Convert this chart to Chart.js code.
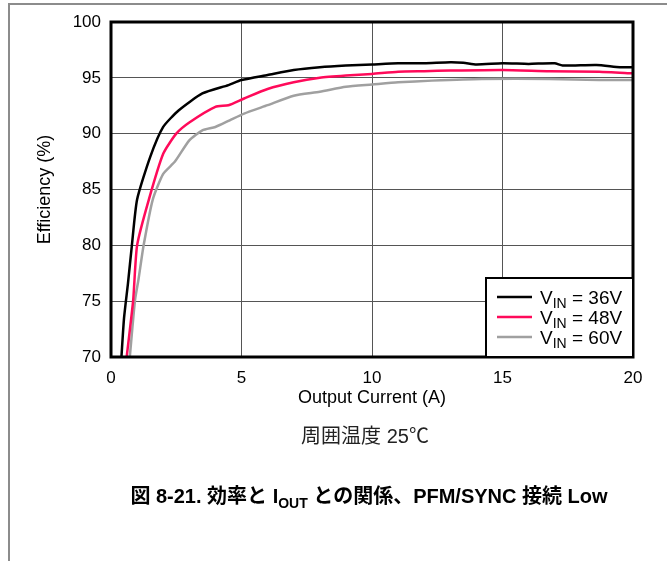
<!DOCTYPE html>
<html>
<head>
<meta charset="utf-8">
<script src="https://cdn.jsdelivr.net/npm/chart.js@4"></script>
<style>
  html, body { margin: 0; padding: 0; background: #fff; }
  #wrap { position: relative; width: 667px; height: 561px; overflow: hidden; }
  #chart { position: absolute; left: 0; top: 0; }
  .frame { position: absolute; left: 8px; top: 3px; width: 670px; height: 570px;
           border-top: 2px solid #8c8c8c; border-left: 2px solid #8c8c8c; }
  .cap { position: absolute; white-space: nowrap; text-align: center;
         font-family: "Liberation Sans", Arial, "Noto Sans CJK JP", sans-serif; }
  #note { left: 165px; width: 400px; top: 420px; font-size: 20px; color: #222; }
  #title { left: 69px; width: 600px; top: 480px; font-size: 20px; font-weight: bold; color: #000; }
  #title sub { font-size: 14px; vertical-align: -5px; line-height: 0; }
</style>
</head>
<body>
<div id="wrap">
  <canvas id="chart" width="667" height="561"></canvas>
  <div class="frame"></div>
  <div class="cap" id="note">周囲温度 25℃</div>
  <div class="cap" id="title">図 8-21. 効率と I<sub>OUT</sub> との関係、PFM/SYNC 接続 Low</div>
</div>
<script>
// Efficiency vs output current
const vin36Current = [0.4, 0.5, 0.65, 0.8, 1.0, 1.5, 2.0, 2.6, 3.5, 4.5, 5.0, 6.0, 7.0, 8.0, 9.0, 10.0, 11.0, 12.0, 13.0, 13.5, 14.0, 15.0, 16.0, 17.0, 17.3, 18.6, 19.5, 20];
const vin36Eff = [70, 73.5, 76.6, 80, 84.1, 87.9, 90.6, 92.1, 93.6, 94.35, 94.8, 95.25, 95.7, 95.95, 96.1, 96.2, 96.3, 96.3, 96.4, 96.35, 96.2, 96.3, 96.25, 96.3, 96.1, 96.15, 95.95, 95.95];

const vin48Current = [0.6, 0.85, 1.0, 1.45, 2.0, 2.5, 3.0, 4.0, 4.5, 5.1, 6.0, 7.0, 8.0, 9.0, 10.0, 11.0, 12.0, 13.0, 15.0, 16.8, 18.7, 20];
const vin48Eff = [70, 75.1, 80, 84.1, 88.2, 90.0, 91.0, 92.4, 92.55, 93.15, 94.0, 94.6, 95.0, 95.2, 95.35, 95.55, 95.6, 95.65, 95.7, 95.6, 95.55, 95.4];

const vin60Current = [0.72, 0.92, 1.05, 1.25, 1.6, 2.0, 2.45, 3.0, 3.5, 4.0, 4.55, 5.1, 6.0, 7.0, 8.0, 9.0, 10.0, 11.0, 12.3, 14.2, 16.8, 18.7, 20];
const vin60Eff = [70, 75.1, 76.9, 80, 84.1, 86.4, 87.5, 89.4, 90.3, 90.6, 91.2, 91.8, 92.55, 93.4, 93.75, 94.2, 94.4, 94.6, 94.75, 94.9, 94.9, 94.8, 94.8];

const seriesVoltages = ['36V', '48V', '60V'];
const seriesColors = ['#000000', '#ff0a5a', '#a0a0a0'];
const xTicks = [0, 5, 10, 15, 20];
const yTicks = [70, 75, 80, 85, 90, 95, 100];

const toPoints = (xs, ys) => xs.map((x, i) => ({ x: x, y: ys[i] }));
const seriesData = [
    toPoints(vin36Current, vin36Eff),
    toPoints(vin48Current, vin48Eff),
    toPoints(vin60Current, vin60Eff)
];

const FONT = '"Liberation Sans", Arial, sans-serif';

// thick plot frame + legend box with subscripted V_IN labels
const framePlugin = {
    id: 'frameAndLegend',
    afterDraw(chart) {
        const { ctx, chartArea: a } = chart;
        ctx.save();
        ctx.strokeStyle = '#000';
        ctx.lineWidth = 3;
        ctx.strokeRect(a.left, a.top, a.right - a.left, a.bottom - a.top);

        // legend box, anchored to bottom-right corner of the plot
        const boxW = 147, boxH = 79;
        const bx = a.right - boxW, by = a.bottom - boxH;
        ctx.fillStyle = '#fff';
        ctx.fillRect(bx, by, boxW, boxH);
        ctx.lineWidth = 2;
        ctx.strokeRect(bx, by, boxW, boxH);

        chart.data.datasets.forEach((ds, i) => {
            const y = by + 19 + i * 20;
            ctx.strokeStyle = ds.borderColor;
            ctx.lineWidth = 2.5;
            ctx.beginPath();
            ctx.moveTo(bx + 11, y);
            ctx.lineTo(bx + 46, y);
            ctx.stroke();

            ctx.fillStyle = '#000';
            ctx.textBaseline = 'alphabetic';
            let tx = bx + 54;
            ctx.font = '19px ' + FONT;
            ctx.fillText('V', tx, y + 7);
            tx += ctx.measureText('V').width;
            ctx.font = '14px ' + FONT;
            ctx.fillText('IN', tx, y + 11);
            tx += ctx.measureText('IN').width;
            ctx.font = '19px ' + FONT;
            ctx.fillText(' = ' + seriesVoltages[i], tx, y + 7);
        });
        ctx.restore();
    }
};

new Chart(document.getElementById('chart'), {
    type: 'line',
    data: {
        datasets: seriesData.map((pts, i) => ({
            label: 'VIN = ' + seriesVoltages[i],
            data: pts,
            borderColor: seriesColors[i],
            borderWidth: 2.5,
            pointRadius: 0,
            tension: 0.2,
            fill: false
        }))
    },
    options: {
        responsive: false,
        animation: false,
        layout: { padding: { left: 33, top: 22, right: 34, bottom: 144 } },
        plugins: {
            legend: { display: false },
            tooltip: { enabled: false }
        },
        scales: {
            x: {
                type: 'linear',
                min: 0,
                max: 20,
                afterFit: s => { s.height = 60; },
                afterBuildTicks: s => { s.ticks = xTicks.map(v => ({ value: v })); },
                grid: { color: '#555', lineWidth: 1, drawTicks: false },
                border: { display: false },
                ticks: { color: '#000', font: { family: FONT, size: 17 }, padding: 11, maxRotation: 0 },
                title: {
                    display: true,
                    text: 'Output Current (A)',
                    color: '#000',
                    font: { family: FONT, size: 18 },
                    padding: { top: 0, bottom: 8 }
                }
            },
            y: {
                type: 'linear',
                min: 70,
                max: 100,
                afterFit: s => { s.width = 78; },
                afterBuildTicks: s => { s.ticks = yTicks.map(v => ({ value: v })); },
                grid: { color: '#555', lineWidth: 1, drawTicks: false },
                border: { display: false },
                ticks: { color: '#000', font: { family: FONT, size: 17 }, padding: 10 },
                title: {
                    display: true,
                    text: 'Efficiency (%)',
                    color: '#000',
                    font: { family: FONT, size: 18 },
                    padding: { top: 1, bottom: 0 }
                }
            }
        }
    },
    plugins: [framePlugin]
});
</script>
</body>
</html>
